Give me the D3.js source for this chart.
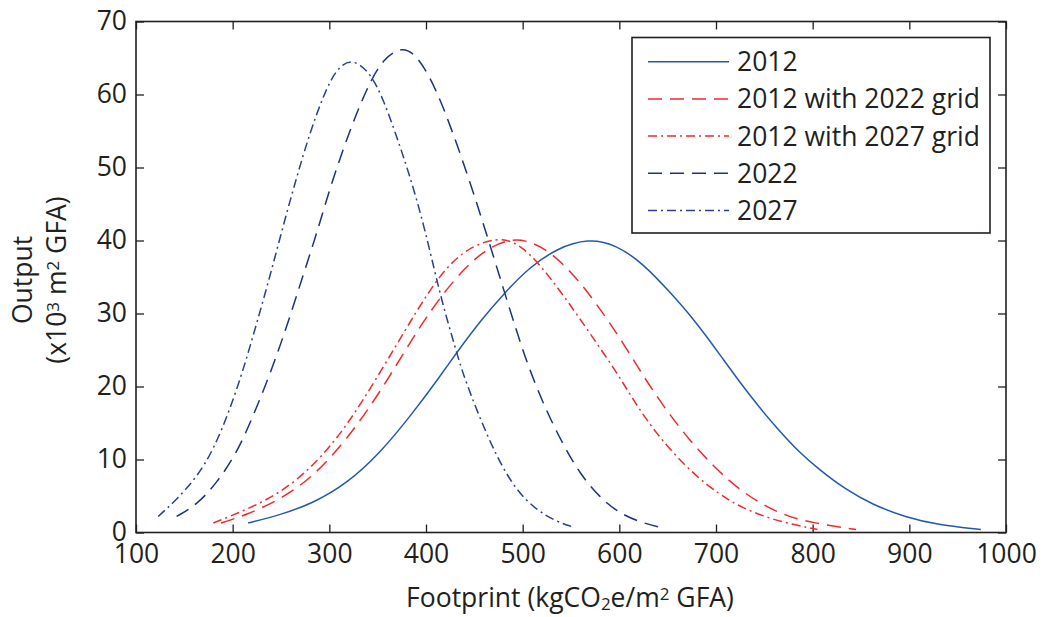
<!DOCTYPE html>
<html>
<head>
<meta charset="utf-8">
<script src="https://cdn.jsdelivr.net/npm/d3@7"></script>
<style>
  body { margin: 0; background: #fff; }
  svg { display: block; }
  text { font-family: "Open Sans", "Liberation Sans", sans-serif; fill: #231f20; }
</style>
</head>
<body>
<svg id="chart" width="1043" height="617"></svg>
<script>
// values: [footprint, output]
const s2012 = [[216,1.3],[249,2.4],[283,4.0],[318,6.7],[352,10.8],[386,16.3],[414,21.3],[431,24.5],[455,28.8],[483,33.1],[507,36.3],[535,38.9],[568,40.3],[597,39.4],[624,36.9],[652,33.0],[679,28.9],[706,24.0],[724,20.7],[745,17.1],[765,14.0],[786,11.0],[807,8.6],[834,5.9],[862,3.8],[896,2.1],[931,1.0],[974,0.4]]
const s2012g22 = [[188,1.3],[214,2.4],[249,4.5],[283,7.6],[318,12.7],[352,19.1],[386,26.6],[404,30.2],[424,33.8],[448,37.3],[469,39.3],[490,40.3],[510,39.8],[531,38.2],[555,35.0],[576,31.4],[600,26.8],[623,21.8],[645,17.4],[672,12.7],[700,8.7],[724,5.9],[748,3.8],[772,2.3],[800,1.3],[845,0.4]]
const s2012g27 = [[180,1.3],[214,3.1],[249,5.4],[283,9.0],[318,14.5],[352,21.8],[386,29.4],[404,33.2],[424,36.8],[448,39.3],[473,40.3],[490,39.9],[507,38.3],[528,35.0],[548,31.4],[569,27.4],[597,22.0],[617,17.6],[638,13.6],[665,9.5],[693,6.2],[714,4.4],[724,3.6],[755,1.9],[783,1.0],[805,0.4]]
const s2022 = [[142,2.2],[163,3.8],[183,6.7],[204,10.8],[221,15.9],[239,21.8],[256,28.2],[273,35.3],[287,41.0],[300,46.9],[314,52.4],[328,57.4],[342,61.7],[356,64.9],[375,66.6],[390,65.4],[404,62.4],[418,58.3],[438,51.0],[459,42.5],[480,33.4],[497,26.2],[508,22.0],[524,16.8],[542,12.0],[559,8.1],[579,4.9],[600,2.6],[624,1.3],[643,0.7]]
const s2027 = [[123,2.2],[142,4.5],[163,7.6],[180,11.3],[197,16.8],[211,22.3],[225,28.7],[239,35.3],[252,41.9],[266,48.6],[280,54.8],[294,59.9],[307,63.5],[323,65.0],[342,63.1],[356,59.3],[369,54.5],[383,49.0],[397,42.5],[409,35.8],[418,30.9],[431,25.0],[438,21.8],[455,15.9],[473,10.4],[493,5.8],[514,3.1],[535,1.5],[551,0.8]]

const seriesNames = ['2012', '2012 with 2022 grid', '2012 with 2027 grid', '2022', '2027']
const xTicks = [100, 200, 300, 400, 500, 600, 700, 800, 900, 1000]
const yTicks = [0, 10, 20, 30, 40, 50, 60, 70]

const series = [
  { name: seriesNames[0], data: s2012, color: '#2358b0', dash: null },
  { name: seriesNames[1], data: s2012g22, color: '#ef2b2b', dash: '14,8' },
  { name: seriesNames[2], data: s2012g27, color: '#ef2b2b', dash: '9,4,2,4' },
  { name: seriesNames[3], data: s2022, color: '#1d347c', dash: '14,8' },
  { name: seriesNames[4], data: s2027, color: '#2b408e', dash: '9,4,2,4' }
]

const svg = d3.select('#chart')
const plotLeft = 136
const plotRight = 1006
const plotTop = 21.5
const plotBottom = 532.5
const fontSize = 26.5

const x = d3.scaleLinear().domain([100, 1000]).range([plotLeft, plotRight])
const y = d3.scaleLinear().domain([0, 70]).range([plotBottom, plotTop])

const axisColor = '#231f20'

function styleAxis (g) {
  g.select('.domain').remove()
  g.selectAll('line').attr('stroke', axisColor).attr('stroke-width', 1.3)
  g.selectAll('text').style('font-size', fontSize + 'px').attr('fill', axisColor)
}

svg.append('g')
  .attr('transform', `translate(0,${plotBottom})`)
  .call(d3.axisBottom(x).tickValues(xTicks).tickSize(-8).tickPadding(12).tickFormat(d3.format('d')))
  .call(styleAxis)

svg.append('g')
  .attr('transform', `translate(${plotLeft},0)`)
  .call(d3.axisLeft(y).tickValues(yTicks).tickSize(-8).tickPadding(9))
  .call(styleAxis)

svg.append('g')
  .attr('transform', `translate(0,${plotTop})`)
  .call(d3.axisTop(x).tickValues(xTicks).tickSize(-8).tickFormat(''))
  .call(styleAxis)

svg.append('g')
  .attr('transform', `translate(${plotRight},0)`)
  .call(d3.axisRight(y).tickValues(yTicks).tickSize(-8).tickFormat(''))
  .call(styleAxis)

// frame
svg.append('rect')
  .attr('x', plotLeft).attr('y', plotTop)
  .attr('width', plotRight - plotLeft).attr('height', plotBottom - plotTop)
  .attr('fill', 'none').attr('stroke', axisColor).attr('stroke-width', 1.6)

const line = d3.line()
  .x(d => x(d[0]))
  .y(d => y(d[1]))
  .curve(d3.curveBasis)

svg.append('g').selectAll('path')
  .data(series)
  .join('path')
  .attr('d', d => line(d.data))
  .attr('fill', 'none')
  .attr('stroke', d => d.color)
  .attr('stroke-width', 1.5)
  .attr('stroke-dasharray', d => d.dash)

// legend
const legend = svg.append('g')
legend.append('rect')
  .attr('x', 632).attr('y', 37.5)
  .attr('width', 358).attr('height', 195.5)
  .attr('fill', '#fff').attr('stroke', axisColor).attr('stroke-width', 1.6)

const rows = legend.selectAll('g.row')
  .data(series)
  .join('g')
  .attr('class', 'row')
  .attr('transform', (d, i) => `translate(0,${61.7 + i * 37.2})`)

rows.append('line')
  .attr('x1', 648).attr('x2', 729)
  .attr('stroke', d => d.color)
  .attr('stroke-width', 1.5)
  .attr('stroke-dasharray', d => d.dash)

rows.append('text')
  .attr('x', 737)
  .attr('y', 9.5)
  .style('font-size', fontSize + 'px')
  .text(d => d.name)

// x label
const xl = svg.append('text')
  .attr('x', 570).attr('y', 607)
  .attr('text-anchor', 'middle')
  .style('font-size', fontSize + 'px')
xl.append('tspan').text('Footprint (kgCO')
xl.append('tspan').attr('baseline-shift', '-20%').style('font-size', '17px').text('2')
xl.append('tspan').text('e/m')
xl.append('tspan').attr('baseline-shift', '40%').style('font-size', '17px').text('2')
xl.append('tspan').text(' GFA)')

// y label
const yl = svg.append('g').attr('transform', 'translate(0,280) rotate(-90)')
yl.append('text')
  .attr('x', 0).attr('y', 32)
  .attr('text-anchor', 'middle')
  .style('font-size', fontSize + 'px')
  .text('Output')
const yl2 = yl.append('text')
  .attr('x', 0).attr('y', 66)
  .attr('text-anchor', 'middle')
  .style('font-size', fontSize + 'px')
yl2.append('tspan').text('(x10')
yl2.append('tspan').attr('baseline-shift', '40%').style('font-size', '17px').text('3')
yl2.append('tspan').text(' m')
yl2.append('tspan').attr('baseline-shift', '40%').style('font-size', '17px').text('2')
yl2.append('tspan').text(' GFA)')
</script>
</body>
</html>
